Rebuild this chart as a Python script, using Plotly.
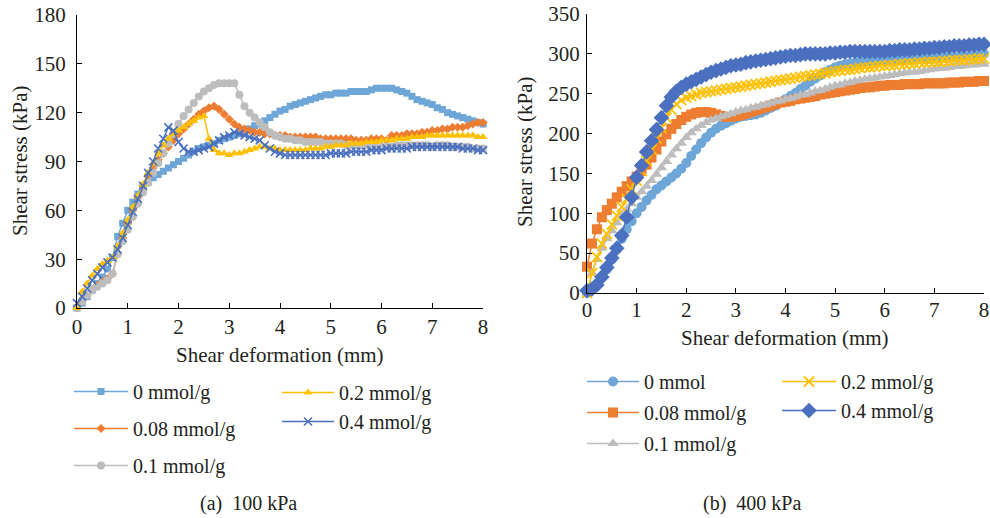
import plotly.graph_objects as go

W, H = 990, 518

# ---------------- data ----------------
deformation = [0.0, 0.1, 0.2, 0.3, 0.4, 0.5, 0.6, 0.7, 0.8, 0.9,
               1.0, 1.1, 1.2, 1.3, 1.4, 1.5, 1.6, 1.7, 1.8, 1.9,
               2.0, 2.1, 2.2, 2.3, 2.4, 2.5, 2.6, 2.7, 2.8, 2.9,
               3.0, 3.1, 3.2, 3.3, 3.4, 3.5, 3.6, 3.7, 3.8, 3.9,
               4.0, 4.1, 4.2, 4.3, 4.4, 4.5, 4.6, 4.7, 4.8, 4.9,
               5.0, 5.1, 5.2, 5.3, 5.4, 5.5, 5.6, 5.7, 5.8, 5.9,
               6.0, 6.1, 6.2, 6.3, 6.4, 6.5, 6.6, 6.7, 6.8, 6.9,
               7.0, 7.1, 7.2, 7.3, 7.4, 7.5, 7.6, 7.7, 7.8, 7.9, 8.0]

# (a) 100 kPa
a_0 = [0, 3, 7, 11, 15, 19, 24, 31, 44, 52,
       60, 65, 70, 74, 77, 80, 82, 84, 86, 88,
       90, 92, 94, 96, 98, 99, 100, 101, 103, 104,
       105, 106, 107, 108, 110, 112, 113, 115, 117, 119,
       121, 122, 124, 125, 126, 127, 128, 129, 130, 131,
       131, 132, 132, 132, 133, 133, 133, 133, 134, 135,
       135, 135, 135, 134, 133, 132, 130, 128, 127, 126,
       125, 123, 122, 120, 119, 118, 117, 116, 115, 114, 113]
a_008 = [0, 4, 8, 11, 14, 16, 18, 21, 33, 43,
         52, 60, 68, 75, 81, 86, 91, 95, 99, 103,
         107, 110, 113, 116, 119, 121, 123, 124, 122, 119,
         116, 113, 111, 110, 109, 108, 108, 107, 107, 106,
         106, 106, 105, 105, 105, 105, 105, 105, 104, 104,
         104, 104, 104, 104, 104, 103, 103, 103, 104, 104,
         104, 103, 106, 106, 106, 107, 107, 107, 108, 108,
         109, 109, 110, 110, 111, 111, 111, 112, 113, 114, 114]
a_01 = [0, 4, 8, 11, 13, 15, 17, 21, 33, 41,
        48, 56, 64, 71, 77, 83, 89, 95, 101, 107,
        113, 118, 122, 126, 130, 133, 135, 137, 138, 138,
        138, 138, 131, 124, 120, 117, 114, 111, 108, 106,
        105, 104, 104, 103, 103, 102, 102, 102, 102, 101,
        101, 101, 101, 100, 100, 100, 100, 100, 99, 99,
        99, 99, 99, 100, 100, 100, 100, 100, 100, 100,
        99, 100, 100, 100, 99, 99, 99, 99, 98, 98, 98]
a_02 = [0, 10, 15, 20, 24, 27, 29, 31, 38, 46,
        54, 62, 69, 76, 83, 89, 95, 100, 104, 107,
        109, 111, 113, 115, 117, 118, 104, 97, 95, 95,
        94, 95, 95, 96, 97, 98, 99, 99, 98, 98,
        97, 97, 97, 97, 97, 97, 98, 98, 98, 99,
        99, 100, 100, 100, 101, 101, 101, 102, 102, 102,
        103, 103, 103, 104, 104, 104, 105, 105, 105, 106,
        106, 106, 106, 106, 106, 106, 106, 106, 106, 105, 105]
a_04 = [3, 7, 12, 17, 21, 25, 28, 31, 36, 43,
        51, 59, 67, 75, 83, 90, 98, 104, 111, 109,
        102, 98, 96, 96, 97, 98, 99, 101, 103, 105,
        106, 108, 107, 106, 105, 104, 103, 100, 98, 96,
        95, 94, 94, 94, 94, 94, 94, 94, 94, 94,
        95, 95, 95, 95, 96, 96, 96, 96, 97, 97,
        97, 98, 98, 98, 98, 98, 99, 99, 99, 99,
        99, 99, 99, 99, 99, 99, 98, 98, 98, 97, 97]

# (b) 400 kPa
b_0 = [0, 5, 12, 20, 30, 42, 55, 68, 80, 90,
       100, 108, 116, 123, 130, 135, 140, 145, 150, 156,
       163, 172, 180, 188, 195, 201, 206, 210, 213, 216,
       219, 221, 222, 223, 224, 226, 229, 232, 235, 239,
       243, 247, 251, 256, 260, 265, 269, 273, 277, 280,
       283, 285, 287, 288, 289, 290, 290, 291, 291, 292,
       292, 292, 293, 293, 293, 293, 294, 294, 294, 294,
       295, 295, 295, 296, 296, 296, 297, 297, 298, 299, 300]
b_008 = [33, 62, 80, 95, 104, 112, 120, 127, 134, 140,
         146, 153, 161, 170, 180, 190, 199, 206, 212, 217,
         221, 224, 226, 227, 227, 226, 224, 222, 221, 221,
         222, 223, 225, 227, 229, 231, 233, 235, 237, 239,
         240, 241, 243, 244, 245, 246, 247, 249, 250, 251,
         252, 253, 254, 255, 256, 257, 258, 258, 259, 260,
         260, 261, 261, 261, 262, 262, 262, 262, 263, 263,
         263, 263, 263, 264, 264, 264, 265, 265, 265, 266, 266]
b_01 = [0, 25, 42, 56, 68, 78, 88, 97, 105, 112,
        120, 127, 134, 141, 149, 157, 165, 173, 181, 188,
        195, 201, 206, 210, 214, 217, 219, 221, 223, 225,
        227, 229, 230, 232, 233, 235, 236, 238, 240, 241,
        243, 244, 246, 248, 249, 251, 253, 254, 256, 258,
        260, 261, 263, 264, 266, 267, 268, 269, 270, 271,
        272, 273, 274, 275, 276, 277, 277, 278, 279, 280,
        281, 282, 282, 283, 284, 284, 285, 286, 286, 287, 287]
b_02 = [0, 25, 45, 62, 74, 86, 97, 108, 118, 130,
        141, 153, 166, 180, 194, 207, 220, 230, 237, 242,
        245, 247, 249, 251, 252, 253, 254, 255, 256, 257,
        258, 259, 260, 261, 262, 263, 264, 265, 266, 267,
        268, 269, 270, 271, 272, 273, 274, 275, 276, 277,
        278, 279, 280, 280, 281, 282, 283, 283, 284, 285,
        285, 286, 286, 287, 287, 288, 288, 289, 289, 290,
        290, 290, 291, 291, 292, 292, 292, 293, 293, 294, 294]
b_04 = [3, 5, 10, 20, 32, 44, 56, 72, 95, 120,
        145, 160, 177, 191, 205, 220, 235, 246, 253, 258,
        262, 265, 268, 271, 274, 277, 279, 281, 283, 285,
        286, 287, 289, 290, 291, 292, 293, 294, 295, 296,
        297, 298, 298, 299, 300, 300, 300, 300, 300, 301,
        301, 302, 302, 303, 303, 303, 303, 303, 303, 303,
        303, 304, 304, 305, 305, 305, 306, 306, 307, 307,
        308, 308, 309, 309, 310, 310, 310, 311, 311, 312, 312]

x_ticks = [0, 1, 2, 3, 4, 5, 6, 7, 8]
a_yticks = [0, 30, 60, 90, 120, 150, 180]
b_yticks = [0, 50, 100, 150, 200, 250, 300, 350]

a_names = ["0 mmol/g", "0.08 mmol/g", "0.1 mmol/g", "0.2 mmol/g", "0.4 mmol/g"]
b_names = ["0 mmol", "0.08 mmol/g", "0.1 mmol/g", "0.2 mmol/g", "0.4 mmol/g"]

# ---------------- style ----------------
FONT = "Liberation Serif"
TXT = "#231F20"
LBLUE, ORANGE, GRAY, YELLOW, DBLUE = "#6FA6D8", "#ED7D31", "#BDBDBD", "#FFC000", "#4A70BF"

def px_x(p):
    """window pixel -> paper fraction"""
    return p / W

def px_y(p):
    return 1 - p / H

fig = go.Figure()

a_series = [
    (a_0, a_names[0], LBLUE, "square", 7, "legend", "g1"),
    (a_008, a_names[1], ORANGE, "diamond", 7, "legend", "g2"),
    (a_01, a_names[2], GRAY, "circle", 8, "legend", "g3"),
    (a_02, a_names[3], YELLOW, "triangle-up", 8, "legend2", "g4"),
    (a_04, a_names[4], DBLUE, "x-thin", 8, "legend2", "g5"),
]
for ys, name, col, sym, sz, leg, grp in a_series:
    marker = dict(symbol=sym, size=sz, color=col, line=dict(width=0))
    if sym == "x-thin":
        marker["line"] = dict(width=1.6, color=col)
    fig.add_trace(go.Scatter(
        x=deformation, y=ys, name=name, mode="lines+markers",
        line=dict(color=col, width=1.5), marker=marker,
        xaxis="x", yaxis="y", legend=leg, legendgroup=grp, cliponaxis=False))

b_series = [
    (b_0, b_names[0], LBLUE, "circle", 10, "legend3", "h1"),
    (b_008, b_names[1], ORANGE, "square", 10, "legend3", "h2"),
    (b_01, b_names[2], GRAY, "triangle-up", 10, "legend3", "h3"),
    (b_02, b_names[3], YELLOW, "x-thin", 10, "legend4", "h4"),
    (b_04, b_names[4], DBLUE, "diamond", 12, "legend4", "h5"),
]
for ys, name, col, sym, sz, leg, grp in b_series:
    marker = dict(symbol=sym, size=sz, color=col, line=dict(width=0))
    if sym == "x-thin":
        marker["line"] = dict(width=1.8, color=col)
    fig.add_trace(go.Scatter(
        x=deformation, y=ys, name=name, mode="lines+markers",
        line=dict(color=col, width=1.5), marker=marker,
        xaxis="x2", yaxis="y2", legend=leg, legendgroup=grp, cliponaxis=False))

axis_common = dict(
    showline=True, linecolor="black", linewidth=1,
    ticks="inside", ticklen=5, tickcolor="black", tickwidth=1,
    showgrid=False, zeroline=False, automargin=False,
    ticklabeloverflow="allow",
    tickfont=dict(family=FONT, size=21, color=TXT),
)

legend_common = dict(
    font=dict(family=FONT, size=20, color=TXT),
    bgcolor="rgba(0,0,0,0)", borderwidth=0,
    orientation="v", xanchor="left", yanchor="top",
    traceorder="grouped", itemsizing="trace",
)

fig.update_layout(
    width=W, height=H,
    margin=dict(l=0, r=0, t=0, b=0),
    paper_bgcolor="white", plot_bgcolor="white",
    showlegend=True,
    xaxis=dict(domain=[px_x(77), px_x(483)], range=[0, 8], tickvals=x_ticks,
               anchor="y", ticklabelstandoff=0, **axis_common),
    yaxis=dict(domain=[px_y(308), px_y(15)], range=[0, 180], tickvals=a_yticks,
               anchor="x", ticklabelstandoff=6, **axis_common),
    xaxis2=dict(domain=[px_x(587), px_x(984)], range=[0, 8], tickvals=x_ticks,
                anchor="y2", ticklabelstandoff=-2, **axis_common),
    yaxis2=dict(domain=[px_y(293), px_y(14)], range=[0, 350], tickvals=b_yticks,
                anchor="x2", ticklabelstandoff=2, **axis_common),
    legend=dict(x=px_x(69), y=px_y(372), itemwidth=54, tracegroupgap=8, **legend_common),
    legend2=dict(x=px_x(277), y=px_y(373), itemwidth=52, tracegroupgap=0, **legend_common),
    legend3=dict(x=px_x(582), y=px_y(362), itemwidth=52, tracegroupgap=2, **legend_common),
    legend4=dict(x=px_x(777), y=px_y(362), itemwidth=54, tracegroupgap=0, **legend_common),
)

ann_font = dict(family=FONT, size=21, color=TXT)
cap_font = dict(family=FONT, size=20, color=TXT)
annotations = [
    dict(text="Shear deformation (mm)", x=px_x(280), y=px_y(355)),
    dict(text="Shear deformation (mm)", x=px_x(785), y=px_y(338)),
    dict(text="Shear stress (kPa)", x=px_x(20), y=px_y(161), textangle=-90),
    dict(text="Shear stress (kPa)", x=px_x(525), y=px_y(152), textangle=-90),
    dict(text="(a)  100 kPa", x=px_x(248), y=px_y(503), font=cap_font),
    dict(text="(b)  400 kPa", x=px_x(752), y=px_y(503), font=cap_font),
]
for a in annotations:
    a.setdefault("font", ann_font)
    fig.add_annotation(xref="paper", yref="paper", xanchor="center", yanchor="middle",
                       showarrow=False, **a)

# remove the browser's default 8 px body margin so the figure fills the window exactly
fig.write_html("out.html",
               config={"displayModeBar": False},
               post_script="document.body.style.margin='0';document.body.style.overflow='hidden';")
